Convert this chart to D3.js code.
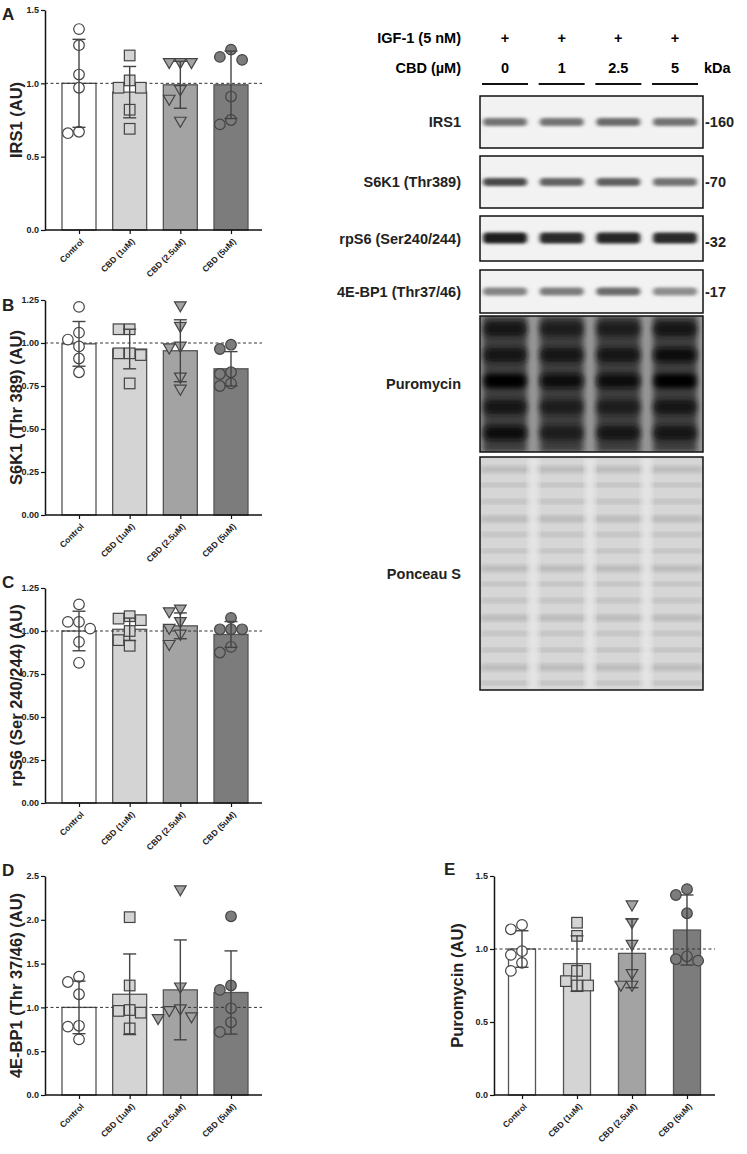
<!DOCTYPE html>
<html><head><meta charset="utf-8">
<script src="https://cdn.jsdelivr.net/npm/d3@7"></script>
<style>body{margin:0;background:#fff}svg{font-family:"Liberation Sans",Arial,sans-serif}</style>
</head><body>
<svg id="c" width="747" height="1154"></svg>
<script>
const groups = ["Control","CBD (1uM)","CBD (2.5uM)","CBD (5uM)"];
const fills = ["#ffffff","#d4d4d4","#a3a3a3","#7c7c7c"];
const shapes = ["circle","square","triangle","circle"];

const irs1Mean = [1.0,0.94,0.99,0.99];
const irs1Sd = [0.30,0.175,0.16,0.23];
const irs1Pts = [[1.37,1.26,1.06,0.97,0.66,0.67],[1.19,1.02,0.97,0.97,0.82,0.69],[1.14,1.14,1.14,0.955,0.89,0.74],[1.18,1.23,1.16,0.91,0.72,0.75]];
const irs1Ticks = [0,0.5,1.0,1.5];

const s6kMean = [0.995,0.965,0.955,0.85];
const s6kSd = [0.13,0.115,0.18,0.10];
const s6kPts = [[1.21,1.06,0.98,1.02,0.91,0.83],[1.08,1.08,0.94,0.93,0.94,0.765],[1.215,1.095,0.97,0.98,0.80,0.73],[0.965,0.99,0.82,0.83,0.75,0.765]];
const quarterTicks = [0,0.25,0.5,0.75,1.0,1.25];

const rps6Mean = [1.0,1.01,1.03,0.98];
const rps6Sd = [0.115,0.065,0.075,0.075];
const rps6Pts = [[1.155,1.053,1.014,1.053,0.937,0.815],[1.072,1.063,1.086,1.0,0.947,0.914],[1.126,1.014,0.92,1.11,1.053,0.98],[1.076,1.01,1.01,1.01,0.875,0.908]];

const bp1Mean = [1.0,1.15,1.2,1.17];
const bp1Sd = [0.30,0.46,0.57,0.475];
const bp1Pts = [[1.29,1.35,1.15,0.79,0.78,0.635],[2.03,1.25,0.97,0.94,0.96,0.76],[2.34,1.23,0.98,0.87,0.89,0.96],[2.04,1.25,1.2,0.99,0.83,0.72]];
const bp1Ticks = [0,0.5,1.0,1.5,2.0,2.5];

const puroMean = [1.0,0.90,0.97,1.13];
const puroSd = [0.125,0.19,0.235,0.24];
const puroPts = [[1.135,1.165,0.96,0.985,0.905,0.85],[1.18,1.09,0.85,0.78,0.75,0.75],[1.30,1.18,1.03,0.83,0.75,0.75],[1.41,1.37,1.245,0.95,0.93,0.92]];

const igfRow = ["+","+","+","+"];
const cbdDoses = ["0","1","2.5","5"];
const blotNames = ["IRS1","S6K1 (Thr389)","rpS6 (Ser240/244)","4E-BP1 (Thr37/46)","Puromycin","Ponceau S"];
const kdaLabels = ["-160","-70","-32","-17","",""];
const bandDark = [[0.5,0.5,0.55,0.5],[0.75,0.6,0.62,0.5],[1.0,0.92,0.95,0.92],[0.4,0.45,0.55,0.35]];
const puroBands = [[0.7,0.6,0.6,0.7],[0.8,0.7,0.75,0.85],[1.0,0.85,0.9,1.0],[0.75,0.6,0.65,0.7],[0.95,0.6,0.7,0.75]];

const svg = d3.select("#c");
const defs = svg.append("defs");
defs.append("filter").attr("id","blur").attr("x","-20%").attr("y","-100%").attr("width","140%").attr("height","300%")
  .append("feGaussianBlur").attr("stdDeviation","2.2 1.6");
defs.append("filter").attr("id","blur2").attr("x","-20%").attr("y","-50%").attr("width","140%").attr("height","200%")
  .append("feGaussianBlur").attr("stdDeviation","3 2.5");

function panel(o){
  const g = svg.append("g");
  const y = d3.scaleLinear().domain([0,o.max]).range([o.bottom,o.top]);
  const x = d3.scalePoint().domain(groups).range([o.c0,o.c1]);
  const bw = o.bw, r = o.r;
  g.selectAll("rect.bar").data(groups).join("rect")
    .attr("x",d=>x(d)-bw/2).attr("width",bw)
    .attr("y",(d,i)=>y(o.mean[i])).attr("height",(d,i)=>y(0)-y(o.mean[i]))
    .attr("fill",(d,i)=>fills[i]).attr("stroke","#555").attr("stroke-width",1.3);
  g.append("line").attr("x1",o.ax).attr("x2",o.axEnd).attr("y1",y(1)).attr("y2",y(1))
    .attr("stroke","#333").attr("stroke-dasharray","3,2.5").attr("stroke-width",1);
  groups.forEach((gname,i)=>{
    const placed=[];
    const order = o.pts[i].map((v,j)=>({v,j})).sort((a,b)=>b.v-a.v);
    order.forEach(p=>{
      const py=y(p.v);
      const cands=[0,-2.1*r,2.1*r,-3.2*r,3.2*r,-4.2*r,4.2*r];
      let off=cands[cands.length-1];
      for(const c of cands){ if(placed.every(q=>Math.hypot(q.x-c,q.y-py)>=2*r)){off=c;break;} }
      placed.push({x:off,y:py});
    });
    placed.forEach(p=>{
      const cx=x(gname)+p.x, cy=p.y, s=shapes[i];
      let el;
      if(s==="circle") el=g.append("circle").attr("cx",cx).attr("cy",cy).attr("r",r);
      else if(s==="square") el=g.append("rect").attr("x",cx-r).attr("y",cy-r).attr("width",2*r).attr("height",2*r);
      else el=g.append("path").attr("d",`M${cx-r*1.1},${cy-r*0.8}L${cx+r*1.1},${cy-r*0.8}L${cx},${cy+r*1.1}Z`);
      el.attr("fill",fills[i]).attr("stroke","#444").attr("stroke-width",1.2);
    });
    const m=o.mean[i], s=o.sd[i], cx=x(gname), cw=o.cap;
    g.append("line").attr("x1",cx).attr("x2",cx).attr("y1",y(m-s)).attr("y2",y(m+s)).attr("stroke","#444").attr("stroke-width",1.4);
    [m-s,m+s].forEach(v=>g.append("line").attr("x1",cx-cw).attr("x2",cx+cw).attr("y1",y(v)).attr("y2",y(v)).attr("stroke","#444").attr("stroke-width",1.4));
  });
  const ya = g.append("g").attr("transform",`translate(${o.ax},0)`)
    .call(d3.axisLeft(y).tickValues(o.ticks).tickFormat(d3.format(o.fmt)).tickSize(4).tickSizeOuter(0));
  ya.selectAll("text").attr("font-size",9).attr("font-weight","bold").attr("fill","#222").attr("dx",1);
  ya.select(".domain").attr("stroke","#111").attr("stroke-width",1.5);
  ya.selectAll(".tick line").attr("stroke","#111").attr("stroke-width",1.2);
  const xa = g.append("g").attr("transform",`translate(0,${o.bottom})`)
    .call(d3.axisBottom(x).tickSize(4).tickSizeOuter(0));
  xa.select(".domain").attr("d",`M${o.ax},0H${o.axEnd}`).attr("stroke","#111").attr("stroke-width",1.5);
  xa.selectAll(".tick line").attr("stroke","#111").attr("stroke-width",1.2);
  xa.selectAll("text").attr("font-size",8.5).attr("font-weight","bold").attr("fill","#222")
    .attr("text-anchor","end").attr("y",0).attr("dy",0).attr("transform","translate(5,12) rotate(-45)");
  g.append("text").attr("transform",`translate(${o.tx},${(o.top+o.bottom)/2}) rotate(-90)`)
    .attr("text-anchor","middle").attr("font-size",16.5).attr("font-weight","bold").attr("fill","#222").text(o.title);
  g.append("text").attr("x",o.lx).attr("y",o.ly).attr("font-size",17).attr("font-weight","bold").attr("fill","#222").text(o.letter);
}
const base={c0:79,c1:231,bw:34,r:5.3,cap:6.5,ax:45,axEnd:262,tx:22,lx:2};
panel({...base,top:10,bottom:230,max:1.5,ticks:irs1Ticks,fmt:".1f",mean:irs1Mean,sd:irs1Sd,pts:irs1Pts,title:"IRS1 (AU)",letter:"A",ly:20});
panel({...base,top:300,bottom:515,max:1.25,ticks:quarterTicks,fmt:".2f",mean:s6kMean,sd:s6kSd,pts:s6kPts,title:"S6K1 (Thr 389) (AU)",letter:"B",ly:311});
panel({...base,top:588,bottom:803,max:1.25,ticks:quarterTicks,fmt:".2f",mean:rps6Mean,sd:rps6Sd,pts:rps6Pts,title:"rpS6 (Ser 240/244) (AU)",letter:"C",ly:588});
panel({...base,top:876,bottom:1095,max:2.5,ticks:bp1Ticks,fmt:".1f",mean:bp1Mean,sd:bp1Sd,pts:bp1Pts,title:"4E-BP1 (Thr 37/46) (AU)",letter:"D",ly:876});
panel({c0:522,c1:687,bw:27,r:5.3,cap:6.5,ax:494,axEnd:715,tx:463,lx:444,top:876,bottom:1095,max:1.5,ticks:irs1Ticks,fmt:".1f",mean:puroMean,sd:puroSd,pts:puroPts,title:"Puromycin (AU)",letter:"E",ly:875});

// ---- Western blot ----
const lane = d3.scalePoint().domain(cbdDoses).range([505,675]);
const bl = svg.append("g");
bl.append("text").attr("x",461).attr("y",43).attr("text-anchor","end").attr("font-size",14.5).attr("font-weight","bold").text("IGF-1 (5 nM)");
bl.append("text").attr("x",461).attr("y",73).attr("text-anchor","end").attr("font-size",14.5).attr("font-weight","bold").text("CBD (µM)");
bl.selectAll("text.igf").data(igfRow).join("text").attr("x",(d,i)=>lane(cbdDoses[i])).attr("y",43).attr("text-anchor","middle").attr("font-size",14.5).attr("font-weight","bold").text(d=>d);
bl.selectAll("text.dose").data(cbdDoses).join("text").attr("x",d=>lane(d)).attr("y",73).attr("text-anchor","middle").attr("font-size",14.5).attr("font-weight","bold").text(d=>d);
bl.append("text").attr("x",704).attr("y",73).attr("font-size",14.5).attr("font-weight","bold").text("kDa");
bl.selectAll("line.ul").data(cbdDoses).join("line").attr("x1",d=>lane(d)-23).attr("x2",d=>lane(d)+23).attr("y1",84).attr("y2",84).attr("stroke","#111").attr("stroke-width",2.2);

const boxes=[[96,148],[156,208],[216,261],[270,313],[316,452],[457,690]];
blotNames.forEach((name,bi)=>{
  const [t,b]=boxes[bi]; const mid=(t+b)/2;
  defs.append("clipPath").attr("id","clip"+bi).append("rect").attr("x",480).attr("y",t).attr("width",223).attr("height",b-t);
  const gg=bl.append("g");
  const inner=gg.append("g").attr("clip-path",`url(#clip${bi})`);
  inner.append("rect").attr("x",480).attr("y",t).attr("width",223).attr("height",b-t).attr("fill",bi===4?"#9a9a9a":(bi===5?"#d6d6d6":"#f2f2f2"));
  if(bi<4){
    cbdDoses.forEach((d,li)=>{
      const k=bandDark[bi][li]; const c=Math.round(200-170*k);
      inner.append("rect").attr("x",lane(d)-22).attr("y",mid-(bi===2?6:4)).attr("width",44).attr("height",bi===2?11:8)
        .attr("rx",4).attr("fill",`rgb(${c},${c},${c})`).attr("filter","url(#blur)");
    });
  } else if(bi===4){
    cbdDoses.forEach((d,li)=>{
      inner.append("rect").attr("x",lane(d)-22).attr("y",t).attr("width",44).attr("height",b-t).attr("fill","#3c3c3c").attr("filter","url(#blur2)");
      puroBands.forEach((row,k)=>{
        const c=Math.round(70-65*row[li]);
        inner.append("rect").attr("x",lane(d)-21).attr("y",t+6+k*26).attr("width",42).attr("height",14).attr("rx",5)
          .attr("fill",`rgb(${c},${c},${c})`).attr("filter","url(#blur2)");
      });
    });
  } else {
    d3.range(0,14).forEach(k=>inner.append("rect").attr("x",480).attr("y",t+10+k*16.5).attr("width",223).attr("height",k%3===0?5:3).attr("fill","#a8a8a8").attr("opacity",0.8).attr("filter","url(#blur2)"));
    [0,1,2].forEach(k=>inner.append("rect").attr("x",(lane(cbdDoses[k])+lane(cbdDoses[k+1]))/2-5).attr("y",t).attr("width",10).attr("height",b-t).attr("fill","#e6e6e6").attr("filter","url(#blur2)"));
  }
  gg.append("rect").attr("x",480).attr("y",t).attr("width",223).attr("height",b-t).attr("fill","none").attr("stroke","#111").attr("stroke-width",1.5);
  gg.append("text").attr("x",461).attr("y",mid+5).attr("text-anchor","end").attr("font-size",14.5).attr("font-weight","bold").attr("fill","#222").text(name);
  if(kdaLabels[bi]) gg.append("text").attr("x",705).attr("y",mid+5+(bi===2?3:0)).attr("font-size",14.5).attr("font-weight","bold").attr("fill","#222").text(kdaLabels[bi]);
});
</script>
</body></html>
